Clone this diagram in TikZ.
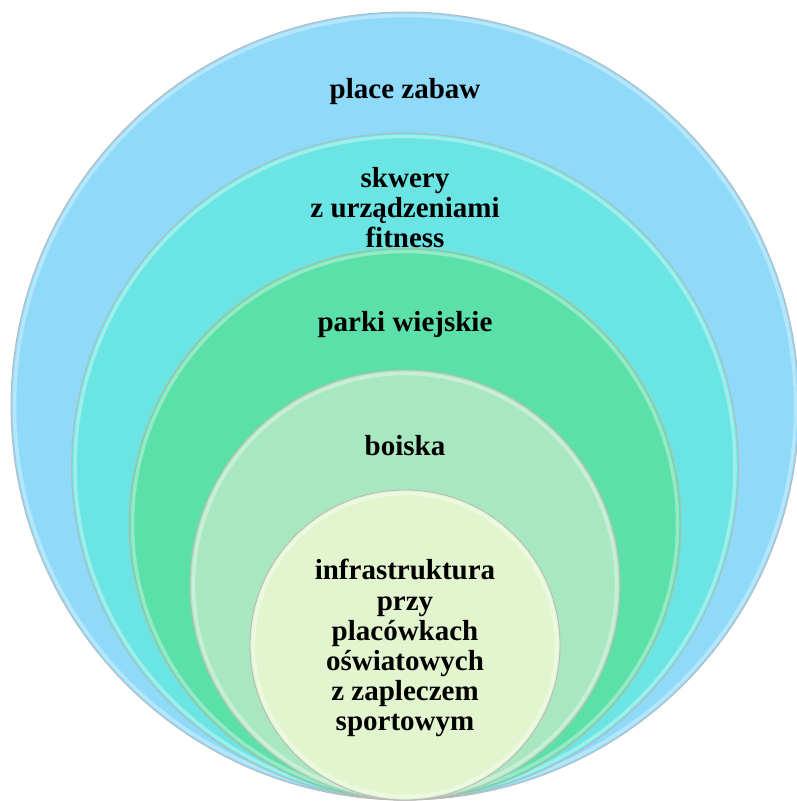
\documentclass[tikz,border=0pt]{standalone}
\usepackage{fontspec}
\setmainfont{Liberation Serif}

\definecolor{ringA}{HTML}{8FD9F9}
\definecolor{ringB}{HTML}{6BE5E3}
\definecolor{ringC}{HTML}{5CE0A9}
\definecolor{ringD}{HTML}{A9E7C0}
\definecolor{ringE}{HTML}{E3F5CF}

\tikzset{
	ring/.style = {draw = gray!55, line width = 0.5pt},
	shine/.style = {draw = white, opacity = 0.35, line width = 2pt},
	label/.style = {align = center, font = \fontsize{16.5}{17.1}\selectfont\bfseries}
}

\begin{document}
\begin{tikzpicture}

	% Frame
	
	\useasboundingbox (0, 0) rectangle (15.92, 16.02);
	
	% Centre line and bottom point
	
	\def\X{8.1}
	\def\B{0.02}
	
	% Circles, all touching at the bottom
	
	\foreach \R/\C in {7.88/ringA, 6.67/ringB, 5.52/ringC, 4.30/ringD, 3.10/ringE}
	{
		\draw [ring, fill = \C] (\X, \B + \R) circle (\R);
		\draw [shine] (\X, \B + \R) circle ({\R - 0.07});
	}
	
	% Labels
	
	\node [label] (zabawy) at (\X, 14.18) {place zabaw};
	\node [label] (skwery) at (\X, 11.87) {skwery\\ z urządzeniami\\ fitness};
	\node [label] (parki) at (\X, 9.52) {parki wiejskie};
	\node [label] (boiska) at (\X, 7.10) {boiska};
	\node [label] (szkoly) at (\X, 3.06) {infrastruktura\\ przy\\ placówkach\\ oświatowych\\ z zapleczem\\ sportowym};

\end{tikzpicture}
\end{document}
